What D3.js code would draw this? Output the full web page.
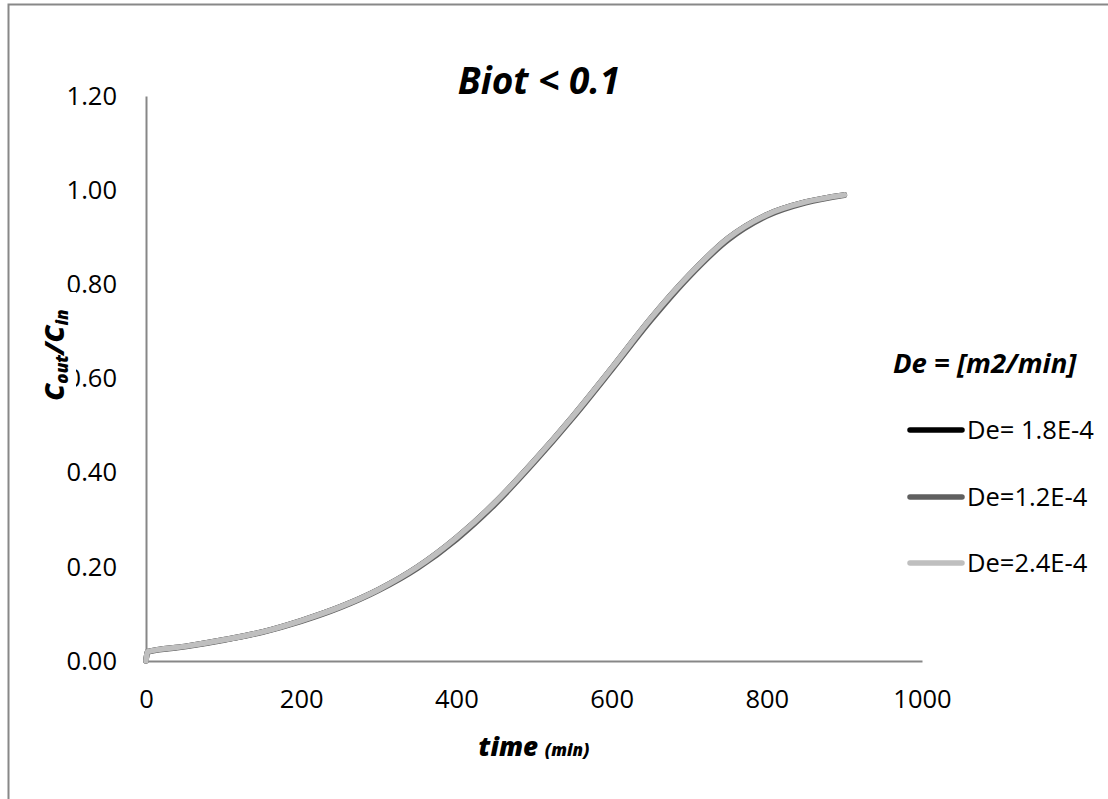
<!DOCTYPE html>
<html>
<head>
<meta charset="utf-8">
<script src="https://cdn.jsdelivr.net/npm/d3@7"></script>
<style>
  html, body { margin: 0; padding: 0; background: #fff; overflow: hidden; }
  svg { display: block; }
</style>
</head>
<body>
<svg id="chart" width="1108" height="799"></svg>
<script>
// ---- data ----
const timeMin = [0, 2, 50, 100, 150, 200, 250, 300, 350, 400, 450, 500, 550, 600, 650, 700, 750, 800, 850, 900];
const seriesDe18 = [0.00, 0.020, 0.031, 0.045, 0.062, 0.086, 0.115, 0.152, 0.200, 0.262, 0.337, 0.425, 0.520, 0.622, 0.727, 0.820, 0.898, 0.948, 0.975, 0.990];
const seriesDe12 = [0.00, 0.019, 0.030, 0.044, 0.061, 0.084, 0.113, 0.150, 0.197, 0.258, 0.333, 0.421, 0.516, 0.618, 0.722, 0.816, 0.894, 0.945, 0.973, 0.989];
const seriesDe24 = [0.00, 0.020, 0.031, 0.045, 0.062, 0.086, 0.115, 0.152, 0.200, 0.262, 0.337, 0.425, 0.520, 0.622, 0.727, 0.820, 0.898, 0.948, 0.975, 0.990];
const seriesNames = ["De= 1.8E-4", "De=1.2E-4", "De=2.4E-4"];
const seriesColors = ["#000000", "#606060", "#bfbfbf"];
const xTicks = [0, 200, 400, 600, 800, 1000];
const yTicks = [0, 0.2, 0.4, 0.6, 0.8, 1.0, 1.2];

const svg = d3.select("#chart");
const font = "'Open Sans', 'Liberation Sans', sans-serif";

// outer frame (only top and left edges are inside the picture)
svg.append("path").attr("d", "M8.5,800 V4.5 H1110")
  .attr("fill", "none").attr("stroke", "#888").attr("stroke-width", 2);

const x = d3.scaleLinear().domain([0, 1000]).range([146, 922]);
const y = d3.scaleLinear().domain([0, 1.2]).range([661, 96]);

// axes
const xAxis = svg.append("g").attr("transform", `translate(0,${y(0)})`)
  .call(d3.axisBottom(x).tickValues(xTicks).tickSize(0).tickPadding(29).tickFormat(d3.format("d")));
const yAxis = svg.append("g").attr("transform", `translate(${x(0)},0)`)
  .call(d3.axisLeft(y).tickValues(yTicks).tickSize(0).tickPadding(29).tickFormat(d3.format(".2f")));
[xAxis, yAxis].forEach(g => {
  g.select(".domain").attr("stroke", "#878787").attr("stroke-width", 2);
  g.selectAll("text").attr("font-family", font).attr("font-size", 25.5).attr("fill", "#000");
});

// lines
const line = d3.line().x((d, i) => x(timeMin[i])).y(d => y(d)).curve(d3.curveMonotoneX);
const allSeries = [seriesDe18, seriesDe12, seriesDe24];
allSeries.forEach((s, k) => {
  svg.append("path").datum(s).attr("d", line)
    .attr("fill", "none").attr("stroke", seriesColors[k])
    .attr("stroke-width", 5.5).attr("stroke-linecap", "round").attr("stroke-linejoin", "round");
});

// title
svg.append("text").attr("x", 539).attr("y", 94).attr("text-anchor", "middle")
  .attr("font-family", font).attr("font-weight", "bold").attr("font-style", "italic")
  .attr("font-size", 37).text("Biot < 0.1");

// x-axis title
const xt = svg.append("text").attr("x", 534).attr("y", 756).attr("text-anchor", "middle")
  .attr("font-family", font).attr("font-weight", "800").attr("font-style", "italic");
xt.append("tspan").attr("font-size", 26).text("time ");
xt.append("tspan").attr("font-size", 17).text("(min)");

// y-axis title (white box)
svg.append("rect").attr("x", 28).attr("y", 292).attr("width", 48).attr("height", 126).attr("fill", "#fff");
const yt = svg.append("text").attr("transform", "translate(64,355) rotate(-90)").attr("text-anchor", "middle")
  .attr("font-family", font).attr("font-weight", "800").attr("font-style", "italic").attr("font-size", 27);
yt.append("tspan").text("C");
yt.append("tspan").attr("font-size", 17).attr("dy", 4).text("out");
yt.append("tspan").attr("dy", -4).text("/C");
yt.append("tspan").attr("font-size", 17).attr("dy", 4).text("in");

// legend
svg.append("text").attr("x", 893).attr("y", 373)
  .attr("font-family", font).attr("font-weight", "bold").attr("font-style", "italic")
  .attr("font-size", 27.5).text("De = [m2/min]");
const legY = [430, 497, 563];
seriesNames.forEach((n, k) => {
  svg.append("line").attr("x1", 910).attr("x2", 962).attr("y1", legY[k]).attr("y2", legY[k])
    .attr("stroke", seriesColors[k]).attr("stroke-width", 5.5).attr("stroke-linecap", "round");
  svg.append("text").attr("x", 967).attr("y", legY[k]).attr("dy", "0.35em")
    .attr("font-family", font).attr("font-size", 25.5).text(n);
});
</script>
</body>
</html>
